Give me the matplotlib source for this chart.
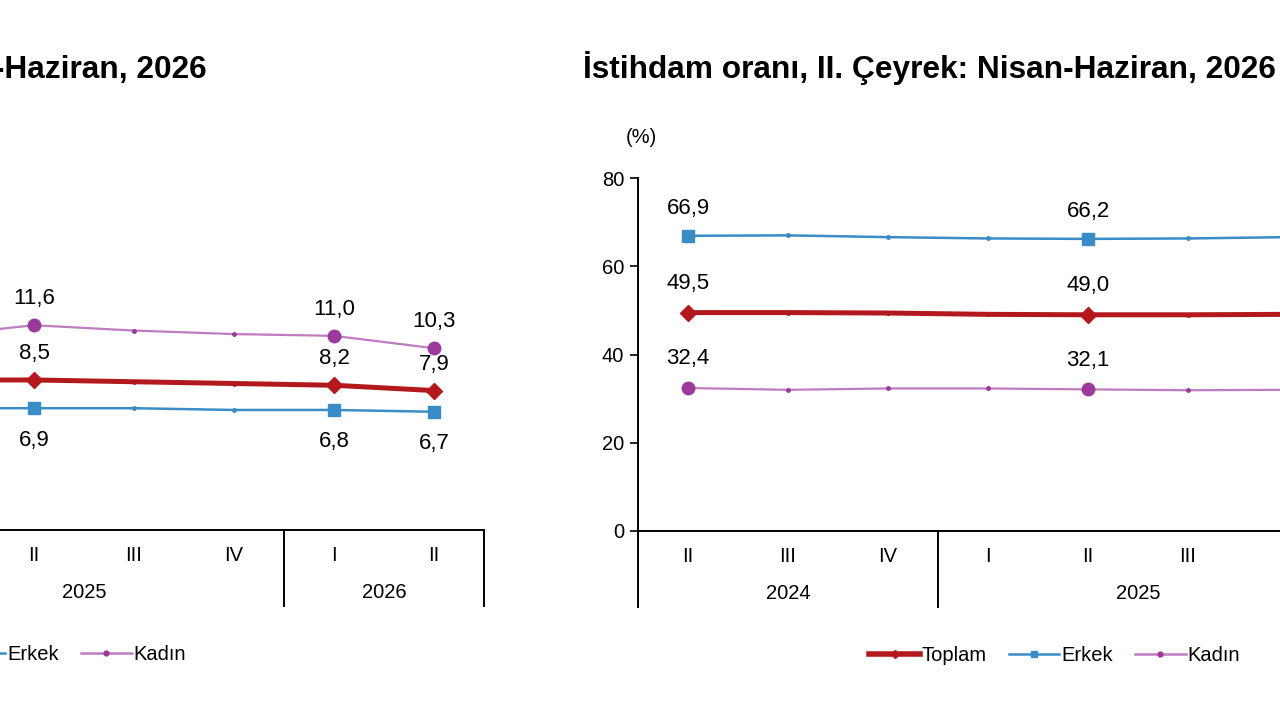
import matplotlib.pyplot as plt
from matplotlib.lines import Line2D

plt.rcParams['font.family'] = ['Liberation Sans', 'DejaVu Sans']

# Quarter axis shared by both charts
quarters = ["II", "III", "IV", "I", "II", "III", "IV", "I", "II"]
years = ["2024", "2025", "2026"]
year_centers = [1, 4.5, 7.5]
year_bounds = [-0.5, 2.5, 6.5, 8.5]
labelled = [0, 4, 7, 8]

# Left chart: unemployment rate (%)
issizlik_toplam = [9.2, 8.7, 8.6, 8.5, 8.5, 8.4, 8.3, 8.2, 7.9]
issizlik_erkek = [7.6, 7.1, 7.0, 6.9, 6.9, 6.9, 6.8, 6.8, 6.7]
issizlik_kadin = [12.0, 11.4, 11.3, 11.0, 11.6, 11.3, 11.1, 11.0, 10.3]

# Right chart: employment rate (%)
istihdam_toplam = [49.5, 49.5, 49.4, 49.1, 49.0, 49.0, 49.1, 49.2, 49.3]
istihdam_erkek = [66.9, 67.0, 66.6, 66.3, 66.2, 66.3, 66.6, 66.7, 66.8]
istihdam_kadin = [32.4, 32.0, 32.3, 32.3, 32.1, 31.9, 32.0, 32.1, 32.2]

RED = "#B3191C"
BLUE = "#3A8CC6"
PURPLE_LINE = "#C07CC0"
PURPLE_MARK = "#9C3A9C"

W, H = 1280, 720
fig = plt.figure(figsize=(12.8, 7.2), dpi=100)


def px_axes(x0, y_bottom, width, height):
    return fig.add_axes([x0 / W, (H - y_bottom) / H, width / W, height / H])


def draw_series(ax, x, vals, color, mcolor, lw, marker, ms, off=19):
    ax.plot(x, vals, color=color, lw=lw, zorder=2)
    ax.plot(x, vals, ls="none", marker="o", ms=2.5, color=mcolor, zorder=3)
    ax.plot([x[i] for i in labelled], [vals[i] for i in labelled], ls="none",
            marker=marker, ms=ms, color=mcolor, zorder=4)
    for i in labelled:
        ax.annotate(f"{vals[i]:.1f}".replace(".", ","), (x[i], vals[i]),
                    xytext=(0, off), textcoords="offset points",
                    ha="center", va="center", fontsize=16)


def setup_chart(ax, ymax, yticks):
    x = list(range(len(quarters)))
    ax.set_xlim(-0.5, 8.5)
    ax.set_ylim(0, ymax)
    ax.set_xticks(x)
    ax.set_xticklabels(quarters, fontsize=14.5)
    ax.tick_params(axis="x", length=0, pad=11.5)
    ax.set_yticks(yticks)
    ax.tick_params(axis="y", labelsize=14.5, length=6, width=1.2, direction="out", pad=4)
    for s in ["top", "right"]:
        ax.spines[s].set_visible(False)
    for s in ["left", "bottom"]:
        ax.spines[s].set_linewidth(1.4)
    for b in year_bounds:
        ax.plot([b, b], [0, -0.215], transform=ax.get_xaxis_transform(),
                color="black", lw=1.4, clip_on=False)
    for c, yr in zip(year_centers, years):
        ax.text(c, -0.176, yr, transform=ax.get_xaxis_transform(),
                ha="center", va="center", fontsize=14.5)
    ax.text(0.004, 1.116, "(%)", transform=ax.transAxes, ha="center",
            va="center", fontsize=14.5)
    return x


# Left chart (mostly cropped off the left edge)
axl = px_axes(-416, 530, 900, 353)
xl = setup_chart(axl, 20, [0, 4, 8, 12, 16, 20])
draw_series(axl, xl, issizlik_kadin, PURPLE_LINE, PURPLE_MARK, 1.6, "o", 9)
draw_series(axl, xl, issizlik_toplam, RED, RED, 3.6, "D", 8.5)
draw_series(axl, xl, issizlik_erkek, BLUE, BLUE, 1.8, "s", 8.5, off=-23)

# Right chart (cropped off the right edge)
axr = px_axes(638, 531, 900, 353)
xr = setup_chart(axr, 80, [0, 20, 40, 60, 80])
draw_series(axr, xr, istihdam_kadin, PURPLE_LINE, PURPLE_MARK, 1.6, "o", 9, off=21)
draw_series(axr, xr, istihdam_toplam, RED, RED, 3.6, "D", 8.5, off=21)
draw_series(axr, xr, istihdam_erkek, BLUE, BLUE, 1.8, "s", 8.5, off=20)

handles = [
    Line2D([], [], color=RED, lw=4, marker="D", ms=4),
    Line2D([], [], color=BLUE, lw=1.8, marker="s", ms=4),
    Line2D([], [], color=PURPLE_LINE, lw=1.8, marker="o", ms=3.5, mfc=PURPLE_MARK, mec=PURPLE_MARK),
]
names = ["Toplam", "Erkek", "Kadın"]
for ax in (axl, axr):
    ax.legend(handles, names, loc="center", bbox_to_anchor=(0.463, -0.354),
              ncol=3, frameon=False, fontsize=14.5, handlelength=2.5,
              handletextpad=0.1, columnspacing=1.1)

fig.text(207 / W, 1 - 68 / H, "İşsizlik oranı, II. Çeyrek: Nisan-Haziran, 2026",
         ha="right", va="center", fontsize=22.8, fontweight="bold")
fig.text(583 / W, 1 - 68 / H, "İstihdam oranı, II. Çeyrek: Nisan-Haziran, 2026",
         ha="left", va="center", fontsize=22.8, fontweight="bold")

fig.savefig("out.png", dpi=100)
